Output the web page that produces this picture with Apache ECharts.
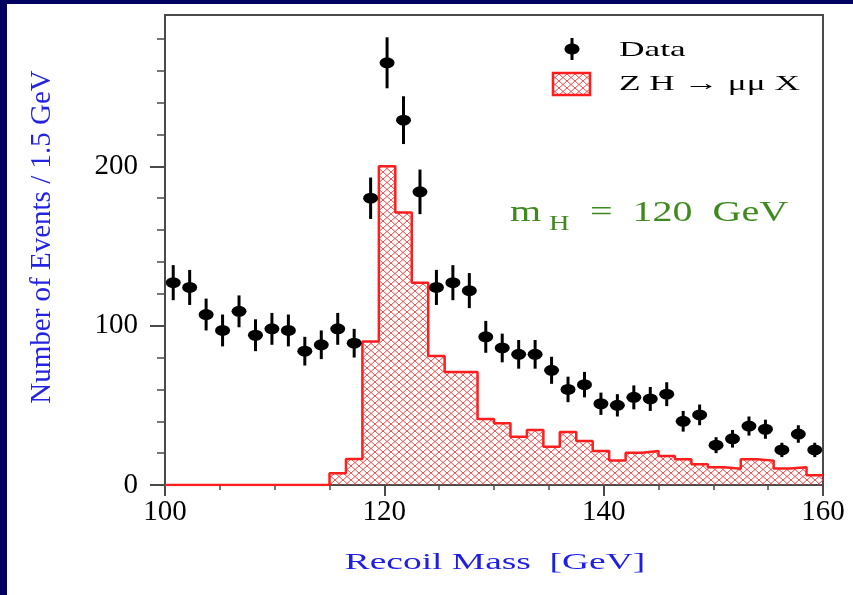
<!DOCTYPE html>
<html>
<head>
    <meta charset="utf-8">
    <title>Recoil Mass</title>
    <script src="https://cdn.jsdelivr.net/npm/echarts@6/dist/echarts.min.js"></script>
    <style>
        html, body { margin: 0; padding: 0; background: #000060; }
        #main { position: absolute; left: 7px; top: 4px; width: 846px; height: 591px; background: #ffffff; }
    </style>
</head>
<body>

    <div id="main"></div>

    <script type="text/javascript">

        // histogram binning (GeV)
        var binStart = 100;
        var binWidth = 1.5;

        // data points, events per bin
        var dataCounts = [127, 124, 107, 97, 109, 94, 98, 97, 84, 88,
                          98, 89, 180, 265, 229, 184, 124, 127, 122, 93,
                          86, 82, 82, 72, 60, 63, 51, 50, 55, 54,
                          57, 40, 44, 25, 29, 37, 35, 22, 32, 22];
        // half length of the error bars
        var dataErrors = [11, 11, 10, 10, 10, 10, 10, 10, 9, 9,
                          10, 9, 13, 16, 15, 14, 11, 11, 11, 10,
                          9, 9, 9, 8.5, 8, 8, 7, 7, 7.5, 7.5,
                          7.5, 6.5, 6.5, 5, 5.5, 6, 6, 4.5, 5.5, 4.5];
        // ZH -> mu mu X signal histogram
        var signalCounts = [0, 0, 0, 0, 0, 0, 0, 0, 0, 0,
                            7.3, 16.3, 90, 200, 171, 127, 81, 71, 71, 41.4,
                            38.7, 30.3, 34.5, 24, 33.2, 27.6, 21.3, 15.3, 20.3, 21.3,
                            18.2, 16.1, 13, 11.1, 10.2, 16.1, 15.3, 10.4, 11.1, 6.1];

        var yLabelTicks = [0, 100, 200];
        var yMinorTicks = [0, 20, 40, 60, 80, 100, 120, 140, 160, 180, 200, 220, 240, 260, 280];

        var OX = 7, OY = 4;   // offset of the white panel

        function makeHatch() {
            var c = document.createElement('canvas');
            c.width = 8;
            c.height = 7;
            var ctx = c.getContext('2d');
            ctx.strokeStyle = 'rgba(228,60,60,0.9)';
            ctx.lineWidth = 1;
            ctx.beginPath();
            ctx.moveTo(0, 0); ctx.lineTo(8, 7);
            ctx.moveTo(0, 7); ctx.lineTo(8, 0);
            ctx.stroke();
            return c;
        }
        var hatch = { image: makeHatch(), repeat: 'repeat' };

        var points = [];
        var bars = [];
        var steps = [];
        for (var i = 0; i < dataCounts.length; i++) {
            var c = binStart + binWidth * (i + 0.5);
            points.push([c, dataCounts[i]]);
            bars.push([c, dataCounts[i], dataErrors[i]]);
        }
        for (var j = 0; j < signalCounts.length; j++) {
            steps.push([binStart + binWidth * j, signalCounts[j]]);
        }
        steps.push([binStart + binWidth * signalCounts.length, signalCounts[signalCounts.length - 1]]);

        var serif = '"Liberation Serif", "Times New Roman", serif';
        var frameColor = '#4a4a4a';

        var myChart = echarts.init(document.getElementById('main'));
        var option = {
            animation: false,
            grid: {
                left: 158, top: 11, right: 30, bottom: 110,
                show: true,
                borderColor: frameColor,
                borderWidth: 2
            },
            xAxis: {
                type: 'value',
                min: 100,
                max: 160,
                interval: 20,
                axisLine: { lineStyle: { color: frameColor, width: 2 } },
                axisTick: { length: 11, lineStyle: { color: frameColor, width: 2 } },
                minorTick: { show: true, splitNumber: 4, length: 5, lineStyle: { color: frameColor, width: 1.5 } },
                splitLine: { show: false },
                axisLabel: { fontFamily: serif, fontSize: 29, color: '#000', margin: 13 }
            },
            yAxis: [
                {
                    type: 'value',
                    position: 'left',
                    min: 0,
                    max: 295,
                    interval: 20,
                    axisLine: { lineStyle: { color: frameColor, width: 2 } },
                    axisTick: { length: 8, customValues: yMinorTicks, lineStyle: { color: frameColor, width: 1.5 } },
                    splitLine: { show: false },
                    axisLabel: {
                        customValues: yLabelTicks,
                        fontFamily: serif, fontSize: 29, color: '#000', margin: 27,
                        formatter: function (v) { return v % 100 === 0 ? String(v) : ''; }
                    }
                },
                {
                    type: 'value',
                    position: 'left',
                    min: 0,
                    max: 295,
                    interval: 100,
                    axisLine: { show: false },
                    axisTick: { length: 15, customValues: yLabelTicks, lineStyle: { color: frameColor, width: 2 } },
                    splitLine: { show: false },
                    axisLabel: { show: false }
                }
            ],
            series: [
                {
                    name: 'ZH',
                    type: 'line',
                    step: 'end',
                    data: steps,
                    symbol: 'none',
                    lineStyle: { color: '#ff1e1e', width: 2.5 },
                    areaStyle: { color: hatch, opacity: 1 },
                    z: 2
                },
                {
                    name: 'errors',
                    type: 'custom',
                    data: bars,
                    encode: { x: 0, y: 1 },
                    renderItem: function (params, api) {
                        var x = api.value(0), v = api.value(1), e = api.value(2);
                        var p1 = api.coord([x, v - e]);
                        var p2 = api.coord([x, v + e]);
                        return {
                            type: 'line',
                            shape: { x1: p1[0], y1: p1[1], x2: p2[0], y2: p2[1] },
                            style: { stroke: '#000', lineWidth: 3 }
                        };
                    },
                    z: 3
                },
                {
                    name: 'Data',
                    type: 'scatter',
                    data: points,
                    symbol: 'circle',
                    symbolSize: [15, 11],
                    itemStyle: { color: '#000', opacity: 1 },
                    z: 4
                }
            ],
            graphic: [
                // legend
                { type: 'line', shape: { x1: 572 - OX, y1: 38 - OY, x2: 572 - OX, y2: 60 - OY }, style: { stroke: '#000', lineWidth: 3 } },
                { type: 'ellipse', shape: { cx: 572 - OX, cy: 49 - OY, rx: 7.5, ry: 5.5 }, style: { fill: '#000' } },
                { type: 'text', x: 619 - OX, y: 50 - OY, scaleX: 1.68,
                  style: { text: 'Data', font: '21px ' + serif, fill: '#000', verticalAlign: 'middle' } },
                { type: 'rect', shape: { x: 553 - OX, y: 73 - OY, width: 37, height: 22 },
                  style: { fill: hatch, stroke: '#ff1e1e', lineWidth: 2.5 } },
                { type: 'text', x: 619 - OX, y: 84 - OY, scaleX: 1.68,
                  style: { text: 'Z H \u2192 \u03bc\u03bc X', font: '21px ' + serif, fill: '#000', verticalAlign: 'middle' } },
                // m_H annotation
                { type: 'text', x: 510 - OX, y: 213 - OY, scaleX: 1.38,
                  style: { text: 'm', font: '29px ' + serif, fill: '#3f8a1f', verticalAlign: 'middle' } },
                { type: 'text', x: 549 - OX, y: 224 - OY, scaleX: 1.35,
                  style: { text: 'H', font: '21px ' + serif, fill: '#3f8a1f', verticalAlign: 'middle' } },
                { type: 'text', x: 590 - OX, y: 213 - OY, scaleX: 1.38,
                  style: { text: '=  120  GeV', font: '29px ' + serif, fill: '#3f8a1f', verticalAlign: 'middle' } },
                // axis titles
                { type: 'text', x: 495 - OX, y: 563 - OY, scaleX: 1.56,
                  style: { text: 'Recoil Mass  [GeV]', font: '24px ' + serif, fill: '#1e1ee6', align: 'center', verticalAlign: 'middle' } },
                { type: 'text', x: 42 - OX, y: 237 - OY, rotation: Math.PI / 2,
                  style: { text: 'Number of Events / 1.5 GeV', font: '29px ' + serif, fill: '#2424e0', align: 'center', verticalAlign: 'middle' } }
            ]
        };
        myChart.setOption(option);
    </script>
</body>
</html>
